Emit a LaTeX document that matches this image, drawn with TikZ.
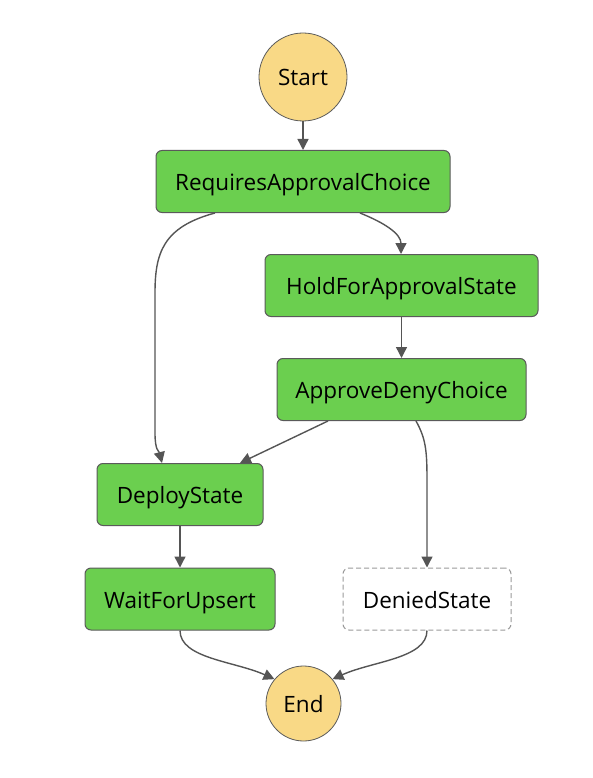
\documentclass[tikz,border=0pt]{standalone}
\usepackage{fontspec}
\setmainfont{Open Sans}
\usetikzlibrary{arrows.meta}
\definecolor{stategreen}{HTML}{6BCF4F}
\definecolor{termyellow}{HTML}{F9D986}
\definecolor{edgegrey}{HTML}{555555}
\definecolor{borderdark}{HTML}{5A5A5A}
\definecolor{dashgrey}{HTML}{9A9A9A}
\tikzset{
  labelfont/.style={font=\fontsize{22.5}{26}\selectfont, text height=18pt, text depth=0pt},
  statebox/.style={labelfont, draw=borderdark, line width=1pt, fill=stategreen, rounded corners=6pt,
    minimum height=62pt, inner sep=0pt},
  deniedbox/.style={labelfont, draw=dashgrey, line width=1pt, fill=white, rounded corners=6pt,
    dash pattern=on 5pt off 3pt, minimum height=62pt, inner sep=0pt},
  termcircle/.style={labelfont, circle, draw=borderdark, line width=0.8pt, fill=termyellow, inner sep=0pt},
  flow/.style={draw=edgegrey, line width=1.4pt, -{Triangle[length=11pt,width=11pt]}}
}
\begin{document}
\begin{tikzpicture}[x=1pt,y=-1pt]
\useasboundingbox (0,0) rectangle (592,778);
\node[termcircle, minimum size=88pt] (start) at (303,77) {Start};
\node[statebox, minimum width=294pt] (req) at (303,181.5) {RequiresApprovalChoice};
\node[statebox, minimum width=273pt] (hold) at (401.5,285.5) {HoldForApprovalState};
\node[statebox, minimum width=249pt] (appr) at (401.5,389.5) {ApproveDenyChoice};
\node[statebox, minimum width=166pt] (deploy) at (180,494.5) {DeployState};
\node[statebox, minimum width=190pt] (wait) at (180,599) {WaitForUpsert};
\node[deniedbox, minimum width=168pt] (denied) at (427,599) {DeniedState};
\node[termcircle, minimum size=75pt] (end) at (303.5,703.5) {End};

\draw[flow] (start) -- (req);
\draw[flow] ([xshift=-88pt]req.south) .. controls +(-52,14) and +(0,-40) .. ++(-60,80)
  -- ++(0,140) .. controls +(0,18) and +(-3,-12) .. ([xshift=-18pt]deploy.north);
\draw[flow] ([xshift=57pt]req.south) .. controls +(25,10) and +(0,-20) .. ([xshift=-0.5pt]hold.north);
\draw[flow] (hold) -- (appr);
\draw[flow] ([xshift=-73.5pt]appr.south) -- ([xshift=60pt]deploy.north);
\draw[flow] ([xshift=14.5pt]appr.south) .. controls +(10,18) and +(0,-30) .. ++(11,60)
  -- (denied.north);
\draw[flow] (deploy) -- (wait);
\draw[flow] (wait.south) .. controls +(0,28) and +(-40,-18) .. (end.140);
\draw[flow] (denied.south) .. controls +(0,28) and +(40,-18) .. (end.40);
\end{tikzpicture}
\end{document}
